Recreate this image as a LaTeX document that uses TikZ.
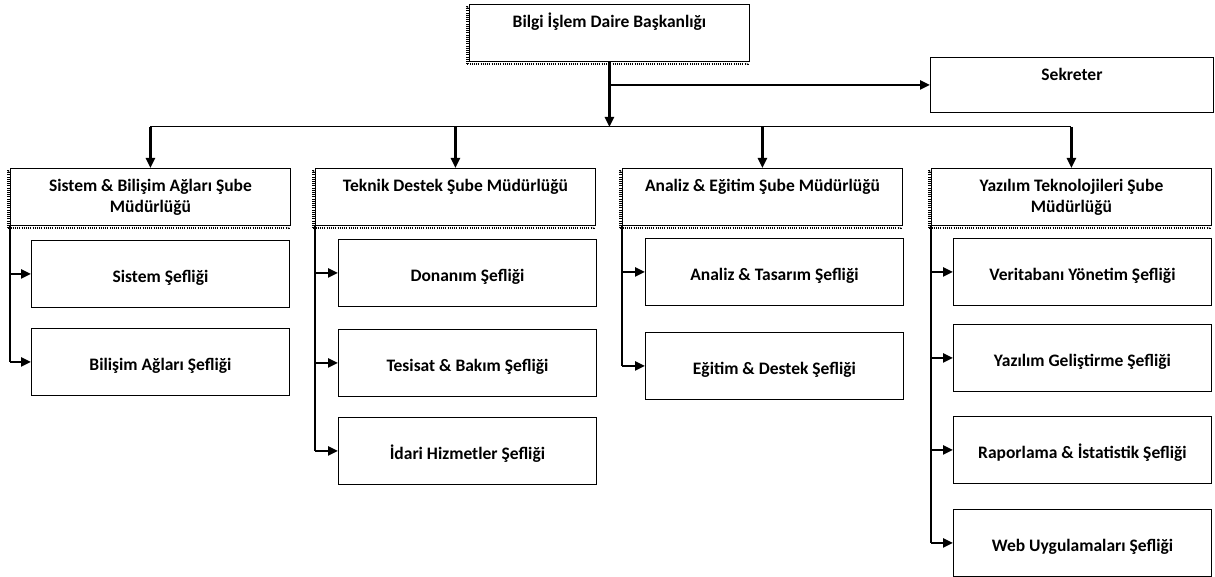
\documentclass[tikz,border=0pt]{standalone}
\usepackage{fontspec}
\setmainfont{Carlito}
\usetikzlibrary{arrows.meta}

\begin{document}
\begin{tikzpicture}[x=1pt, y=-1pt,
    every node/.style={font=\bfseries\fontsize{17.5}{21}\selectfont},
    headbox/.style={draw, fill=white, line width=0.9pt, anchor=north west,
      minimum width=280pt, align=center, inner xsep=0pt, inner ysep=10pt,
      text height=13pt, text depth=24pt},
    twoline/.style={text height=34pt, text depth=3pt},
    shadowed/.style={preaction={draw, dash pattern=on 1pt off 1.2pt, line width=2.2pt,
      transform canvas={shift={(-2pt,-2.5pt)}}}},
    unitbox/.style={draw, fill=white, line width=0.9pt, anchor=north west,
      minimum width=258pt, minimum height=67pt, text height=19pt, text depth=2pt},
    feed/.style={-{Triangle[length=10pt,width=9pt]}, line width=2.4pt},
    link/.style={line width=1.4pt}]
  \useasboundingbox (0,0) rectangle (1215,577);

  % Head and secretary
  \node[headbox, shadowed] (bidb) at (469,4) {Bilgi İşlem Daire Başkanlığı};
  \node[headbox, minimum width=283pt, text depth=22pt] (sek) at (930,57) {Sekreter};

  % Branch offices
  \node[headbox, twoline, shadowed] (sistem) at (10,168) {Sistem \& Bilişim Ağları Şube\\Müdürlüğü};
  \node[headbox, shadowed] (teknik) at (315,168) {Teknik Destek Şube Müdürlüğü};
  \node[headbox, shadowed] (analiz) at (622,168) {Analiz \& Eğitim Şube Müdürlüğü};
  \node[headbox, twoline, shadowed] (yazilim) at (931,168) {Yazılım Teknolojileri Şube\\Müdürlüğü};

  % Units
  \node[unitbox] (sistem1) at (31,240) {Sistem Şefliği};
  \node[unitbox] (sistem2) at (31,328) {Bilişim Ağları Şefliği};

  \node[unitbox] (teknik1) at (338,239) {Donanım Şefliği};
  \node[unitbox] (teknik2) at (338,329) {Tesisat \& Bakım Şefliği};
  \node[unitbox] (teknik3) at (338,417) {İdari Hizmetler Şefliği};

  \node[unitbox] (analiz1) at (645,238) {Analiz \& Tasarım Şefliği};
  \node[unitbox] (analiz2) at (645,332) {Eğitim \& Destek Şefliği};

  \node[unitbox] (yazilim1) at (953,238) {Veritabanı Yönetim Şefliği};
  \node[unitbox] (yazilim2) at (953,324) {Yazılım Geliştirme Şefliği};
  \node[unitbox] (yazilim3) at (953,416) {Raporlama \& İstatistik Şefliği};
  \node[unitbox] (yazilim4) at (953,509) {Web Uygulamaları Şefliği};

  % Head to branches
  \coordinate (bus) at (609,127);
  \draw[feed] (bidb.south) -- (bidb.south |- bus);
  \draw[feed] (bidb.south |- sek.west) -- (sek.west);
  \draw[line width=1pt] (sistem.north |- bus) -- (yazilim.north |- bus);
  \draw[feed] (sistem.north |- bus) -- (sistem.north);
  \draw[feed] (teknik.north |- bus) -- (teknik.north);
  \draw[feed] (analiz.north |- bus) -- (analiz.north);
  \draw[feed] (yazilim.north |- bus) -- (yazilim.north);

  % Branches to units
  \draw[link] (sistem.south west) -- (sistem.south west |- sistem2.west);
  \draw[feed] (sistem.south west |- sistem1.west) -- (sistem1.west);
  \draw[feed] (sistem.south west |- sistem2.west) -- (sistem2.west);

  \draw[link] (teknik.south west) -- (teknik.south west |- teknik3.west);
  \draw[feed] (teknik.south west |- teknik1.west) -- (teknik1.west);
  \draw[feed] (teknik.south west |- teknik2.west) -- (teknik2.west);
  \draw[feed] (teknik.south west |- teknik3.west) -- (teknik3.west);

  \draw[link] (analiz.south west) -- (analiz.south west |- analiz2.west);
  \draw[feed] (analiz.south west |- analiz1.west) -- (analiz1.west);
  \draw[feed] (analiz.south west |- analiz2.west) -- (analiz2.west);

  \draw[link] (yazilim.south west) -- (yazilim.south west |- yazilim4.west);
  \draw[feed] (yazilim.south west |- yazilim1.west) -- (yazilim1.west);
  \draw[feed] (yazilim.south west |- yazilim2.west) -- (yazilim2.west);
  \draw[feed] (yazilim.south west |- yazilim3.west) -- (yazilim3.west);
  \draw[feed] (yazilim.south west |- yazilim4.west) -- (yazilim4.west);
\end{tikzpicture}
\end{document}
